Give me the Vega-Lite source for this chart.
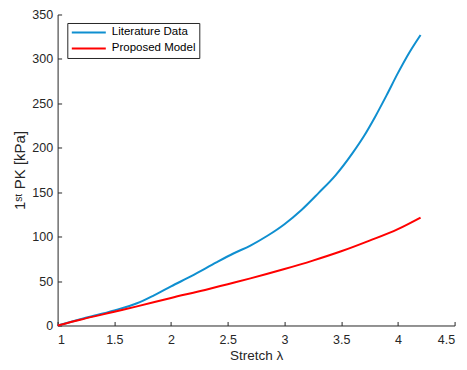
{
  "$schema": "https://vega.github.io/schema/vega-lite/v6.json",
  "width": 397,
  "height": 311,
  "autosize": {"type": "none"},
  "padding": {"left": 57.6, "top": 14.5, "right": 12.4, "bottom": 44.2},
  "config": {
    "view": {"stroke": null},
    "font": "Liberation Sans",
    "axis": {
      "domainColor": "#262626",
      "tickColor": "#262626",
      "labelColor": "#262626",
      "titleColor": "#262626",
      "labelFont": "Liberation Sans",
      "titleFont": "Liberation Sans",
      "labelFontSize": 12.5,
      "titleFontSize": 13.5,
      "titleFontWeight": "normal",
      "grid": false,
      "tickSize": -4,
      "domainWidth": 1,
      "tickWidth": 1
    }
  },
  "data": {
    "values": [
      {"stretch": 1.0, "pk": 0, "series": "Literature Data"},
      {"stretch": 1.2, "pk": 7, "series": "Literature Data"},
      {"stretch": 1.4, "pk": 13.5, "series": "Literature Data"},
      {"stretch": 1.5, "pk": 17, "series": "Literature Data"},
      {"stretch": 1.7, "pk": 25, "series": "Literature Data"},
      {"stretch": 1.85, "pk": 34, "series": "Literature Data"},
      {"stretch": 2.0, "pk": 44, "series": "Literature Data"},
      {"stretch": 2.2, "pk": 57, "series": "Literature Data"},
      {"stretch": 2.4, "pk": 71, "series": "Literature Data"},
      {"stretch": 2.55, "pk": 81, "series": "Literature Data"},
      {"stretch": 2.7, "pk": 90, "series": "Literature Data"},
      {"stretch": 2.85, "pk": 101, "series": "Literature Data"},
      {"stretch": 3.0, "pk": 114, "series": "Literature Data"},
      {"stretch": 3.15, "pk": 130, "series": "Literature Data"},
      {"stretch": 3.3, "pk": 149, "series": "Literature Data"},
      {"stretch": 3.45, "pk": 169, "series": "Literature Data"},
      {"stretch": 3.6, "pk": 194, "series": "Literature Data"},
      {"stretch": 3.7, "pk": 213, "series": "Literature Data"},
      {"stretch": 3.8, "pk": 235, "series": "Literature Data"},
      {"stretch": 3.9, "pk": 259, "series": "Literature Data"},
      {"stretch": 4.0, "pk": 284, "series": "Literature Data"},
      {"stretch": 4.1, "pk": 307, "series": "Literature Data"},
      {"stretch": 4.2, "pk": 327, "series": "Literature Data"},
      {"stretch": 1.0, "pk": 0, "series": "Proposed Model"},
      {"stretch": 1.2, "pk": 6.5, "series": "Proposed Model"},
      {"stretch": 1.4, "pk": 12.5, "series": "Proposed Model"},
      {"stretch": 1.5, "pk": 15.5, "series": "Proposed Model"},
      {"stretch": 1.7, "pk": 21.5, "series": "Proposed Model"},
      {"stretch": 2.0, "pk": 31, "series": "Proposed Model"},
      {"stretch": 2.3, "pk": 40, "series": "Proposed Model"},
      {"stretch": 2.5, "pk": 46.5, "series": "Proposed Model"},
      {"stretch": 2.7, "pk": 53, "series": "Proposed Model"},
      {"stretch": 3.0, "pk": 63.5, "series": "Proposed Model"},
      {"stretch": 3.25, "pk": 73, "series": "Proposed Model"},
      {"stretch": 3.5, "pk": 83.5, "series": "Proposed Model"},
      {"stretch": 3.75, "pk": 95.5, "series": "Proposed Model"},
      {"stretch": 4.0, "pk": 108.5, "series": "Proposed Model"},
      {"stretch": 4.2, "pk": 121.5, "series": "Proposed Model"}
    ]
  },
  "mark": {"type": "line", "strokeWidth": 2, "interpolate": "monotone"},
  "encoding": {
    "x": {
      "field": "stretch",
      "type": "quantitative",
      "scale": {"domain": [1, 4.5], "nice": false, "zero": false},
      "axis": {
        "values": [1, 1.5, 2, 2.5, 3, 3.5, 4, 4.5],
        "format": "~g",
        "title": "Stretch λ",
        "labelPadding": 12,
        "titlePadding": 3
      }
    },
    "y": {
      "field": "pk",
      "type": "quantitative",
      "scale": {"domain": [0, 350], "nice": false},
      "axis": {
        "values": [0, 50, 100, 150, 200, 250, 300, 350],
        "title": "1ˢᵗ PK  [kPa]",
        "titleFontSize": 15,
        "labelPadding": 9,
        "titlePadding": 4
      }
    },
    "color": {
      "field": "series",
      "type": "nominal",
      "scale": {"domain": ["Literature Data", "Proposed Model"], "range": ["#0F8FD0", "#FF0000"]},
      "legend": {
        "title": null,
        "orient": "none",
        "legendX": 9.7,
        "legendY": 8.5,
        "symbolType": "M-1,0H5.8",
        "symbolSize": 100,
        "symbolStrokeWidth": 2,
        "labelFontSize": 11.5,
        "labelFont": "Liberation Sans",
        "labelColor": "#000000",
        "strokeColor": "#262626",
        "fillColor": "#ffffff",
        "padding": 3.5,
        "rowPadding": 4,
        "labelOffset": 29
      }
    }
  }
}
